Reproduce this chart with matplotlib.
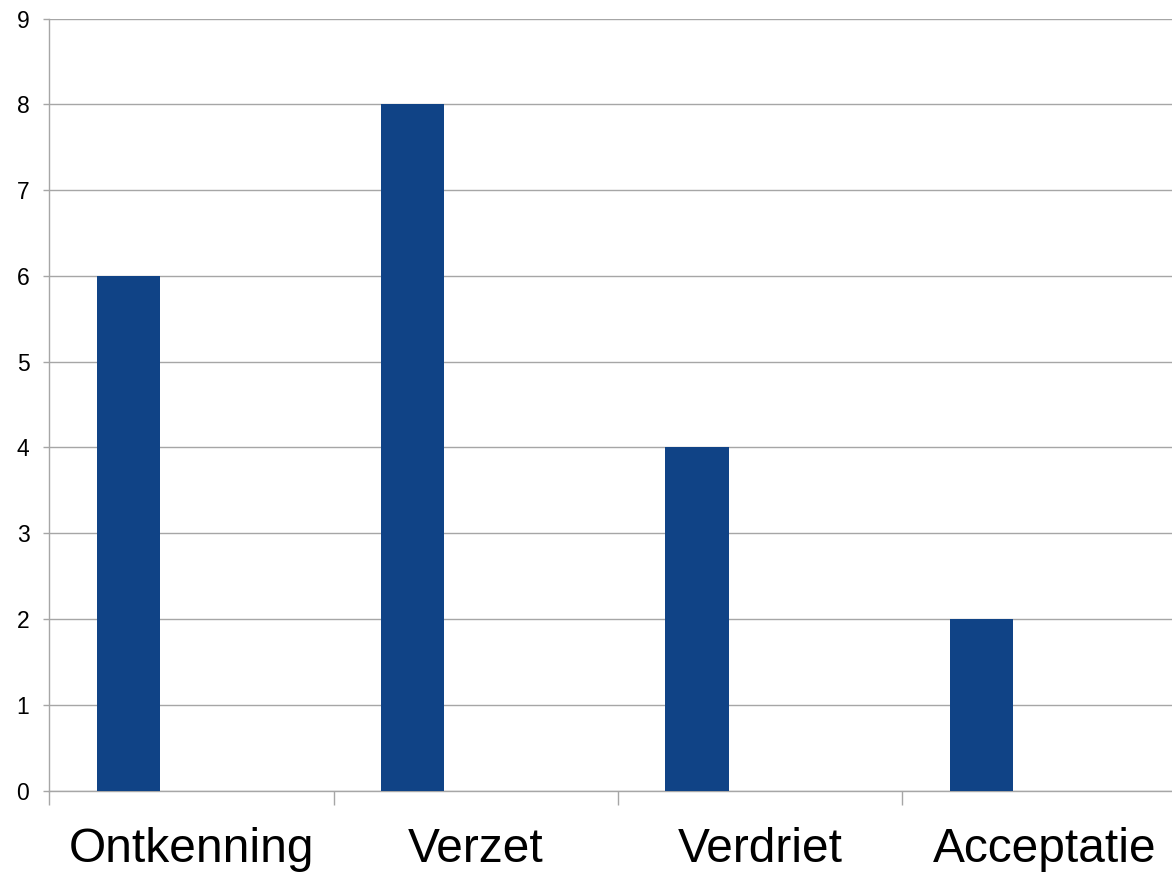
import matplotlib
matplotlib.use("Agg")
import matplotlib.pyplot as plt
import numpy as np

categories = ["Ontkenning", "Verzet", "Verdriet", "Acceptatie"]
values = [6, 8, 4, 2]
y_ticks = list(range(0, 10))

plt.rcParams['font.family'] = ['Liberation Sans', 'DejaVu Sans']

W, H = 1172, 874
fig = plt.figure(figsize=(W/100, H/100), dpi=100)
x0, x1 = 49.5, 1186.5
y0, y1 = 790.5, 18.5
ax = fig.add_axes([x0/W, 1 - y0/H, (x1-x0)/W, (y0-y1)/H])

idx = np.arange(len(categories))
bar_w = 1/4.5
ax.bar(idx + 0.75/4.5, values, width=bar_w, align='edge', color='#104386', zorder=3)

ax.set_xlim(0, len(categories))
ax.set_ylim(0, 9)
ax.set_yticks(y_ticks)
ax.set_yticklabels([str(t) for t in y_ticks], fontsize=16.5)
ax.yaxis.grid(True, color='#a6a6a6', linewidth=1.0, zorder=0)
ax.set_axisbelow(True)

ax.set_xticks(np.arange(0, len(categories)))
ax.set_xticklabels([])
ax.set_xticks(idx + 0.5, minor=True)
ax.set_xticklabels(categories, minor=True, fontsize=34.5)
ax.tick_params(axis='x', which='major', length=10, width=1, color='#a6a6a6', direction='out')
ax.tick_params(axis='x', which='minor', length=0, pad=26)
ax.tick_params(axis='y', length=4.5, width=1, color='#a6a6a6', direction='out', pad=10)

for s in ['top', 'right']:
    ax.spines[s].set_visible(False)
for s in ['left', 'bottom']:
    ax.spines[s].set_color('#a6a6a6')
    ax.spines[s].set_linewidth(1.0)

fig.savefig("out.png", dpi=100)
